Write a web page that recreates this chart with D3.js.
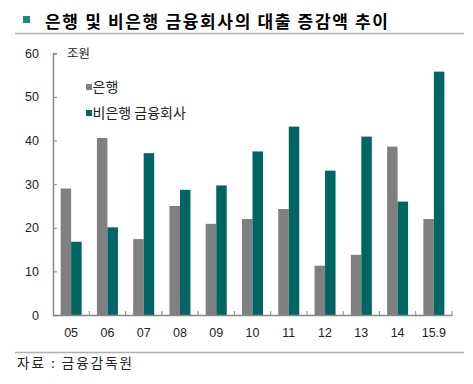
<!DOCTYPE html>
<html>
<head>
<meta charset="utf-8">
<script src="https://cdn.jsdelivr.net/npm/d3@7"></script>
<style>
  body { margin: 0; background: #fff; }
  text { font-family: "Liberation Sans", "Noto Sans CJK KR", sans-serif; }
  .kr { font-family: "Noto Sans CJK KR", sans-serif; }
</style>
</head>
<body>
<div id="chart"></div>
<script>
// 데이터
const years = ["05", "06", "07", "08", "09", "10", "11", "12", "13", "14", "15.9"];
const bank = [29.0, 40.6, 17.4, 25.0, 20.9, 22.0, 24.3, 11.3, 13.8, 38.6, 22.0];
const nonBank = [16.8, 20.1, 37.1, 28.7, 29.7, 37.5, 43.2, 33.1, 40.9, 26.0, 55.8];
const seriesNames = ["은행", "비은행 금융회사"];
const yTicks = [0, 10, 20, 30, 40, 50, 60];

const width = 473, height = 384;
const colors = ["#808080", "#006663"];

const svg = d3.select("#chart").append("svg")
    .attr("width", width)
    .attr("height", height);

// 제목
svg.append("rect").attr("x", 23).attr("y", 16).attr("width", 7).attr("height", 7).attr("fill", "#1b8c7c");
svg.append("text").attr("class", "kr")
    .attr("x", 45).attr("y", 28)
    .style("font-size", "17px").style("font-weight", "bold")
    .attr("textLength", 343)
    .text("은행 및 비은행 금융회사의 대출 증감액 추이");
svg.append("line").attr("x1", 15).attr("x2", 464).attr("y1", 33.5).attr("y2", 33.5)
    .attr("stroke", "#b0b0b0").attr("stroke-width", 1.5);

// 스케일
const x0 = d3.scaleBand().domain(years).range([53, 452]).padding(0);
const pairW = 21;
const x1 = d3.scaleBand().domain([0, 1]).range([0, pairW]);
const y = d3.scaleLinear().domain([0, 60]).range([315, 53.3]);

// 막대
const data = years.map((yr, i) => ({ yr, vals: [bank[i], nonBank[i]] }));
const groups = svg.append("g").selectAll("g")
    .data(data).enter().append("g")
    .attr("transform", d => "translate(" + (x0(d.yr) + (x0.bandwidth() - pairW) / 2) + ",0)");
groups.selectAll("rect")
    .data(d => d.vals.map((v, k) => ({ v, k })))
    .enter().append("rect")
    .attr("x", d => x1(d.k))
    .attr("width", x1.bandwidth())
    .attr("y", d => y(d.v))
    .attr("height", d => y(0) - y(d.v))
    .attr("fill", d => colors[d.k]);

// y축
const yAxis = svg.append("g").attr("transform", "translate(53,0)")
    .call(d3.axisRight(y).tickValues(yTicks).tickSize(4).tickFormat(""));
yAxis.select(".domain").attr("stroke", "#888").attr("stroke-width", 1.5);
yAxis.selectAll(".tick line").attr("stroke", "#888");
svg.append("g").selectAll("text").data(yTicks).enter().append("text")
    .attr("x", 39).attr("y", d => y(d) + 4.5)
    .attr("text-anchor", "end")
    .style("font-size", "12.5px").attr("fill", "#222")
    .text(d => d);

// x축
const xAxis = svg.append("g").attr("transform", "translate(0,315)")
    .call(d3.axisBottom(x0).tickSize(0).tickSizeOuter(0).tickFormat(""));
xAxis.select(".domain").attr("stroke", "#888").attr("stroke-width", 1.5);
svg.append("g").selectAll("line").data(years).enter().append("line")
    .attr("x1", d => x0(d) + x0.step()).attr("x2", d => x0(d) + x0.step())
    .attr("y1", 315).attr("y2", 311)
    .attr("stroke", "#888");
svg.append("g").selectAll("text").data(years).enter().append("text")
    .attr("x", d => x0(d) + x0.bandwidth() / 2)
    .attr("y", 337)
    .attr("text-anchor", "middle")
    .style("font-size", "12.5px").attr("fill", "#222")
    .text(d => d);

// 단위
svg.append("text").attr("class", "kr").attr("x", 67).attr("y", 58)
    .style("font-size", "12.5px").attr("fill", "#222")
    .text("조원");

// 범례
const legend = svg.append("g").selectAll("g").data(seriesNames).enter().append("g")
    .attr("transform", (d, i) => "translate(86," + (84 + i * 26) + ")");
legend.append("rect").attr("width", 6).attr("height", 6).attr("fill", (d, i) => colors[i]);
legend.append("text").attr("class", "kr").attr("x", 6.5).attr("y", 8)
    .style("font-size", "14px").attr("fill", "#222")
    .text(d => d);

// 출처
svg.append("line").attr("x1", 15).attr("x2", 464).attr("y1", 352.5).attr("y2", 352.5)
    .attr("stroke", "#b0b0b0").attr("stroke-width", 1.5);
svg.append("text").attr("class", "kr").attr("x", 17).attr("y", 368)
    .style("font-size", "13.5px").attr("fill", "#222")
    .attr("textLength", 115)
    .text("자료 : 금융감독원");
</script>
</body>
</html>
